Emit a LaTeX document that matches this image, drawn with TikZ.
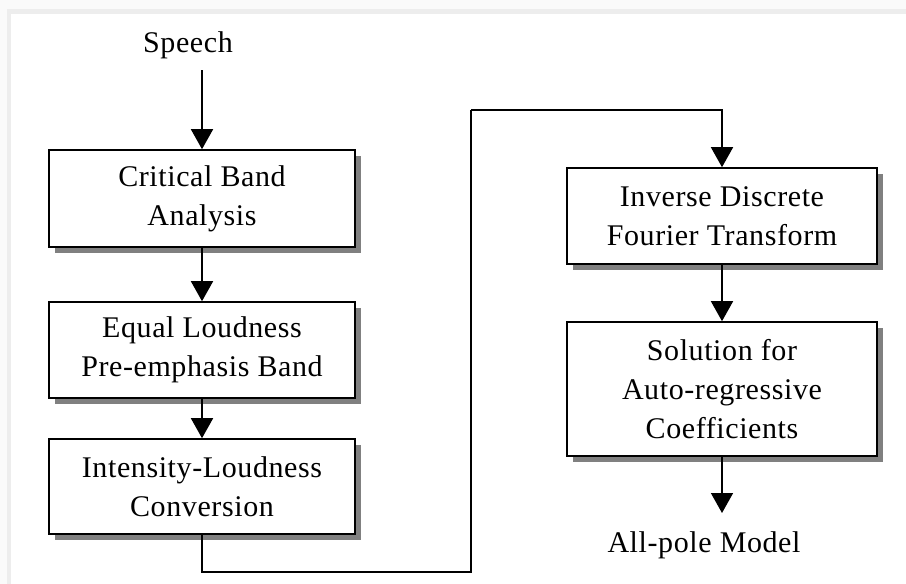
\documentclass[tikz,border=0pt]{standalone}
\usepackage{fontspec}
\setmainfont{Liberation Serif}[LetterSpace=2]
\usetikzlibrary{arrows.meta,shadows}
\begin{document}
\begin{tikzpicture}[x=1pt,y=-1pt,
  every node/.style={font=\fontsize{30}{39}\selectfont, inner sep=0pt},
  procbox/.style={draw=black, line width=1.6pt, fill=white, align=center,
    drop shadow={shadow xshift=6pt, shadow yshift=-6pt, fill=black!50, opacity=1}},
  flow/.style={line width=1.6pt, -{Triangle[length=20pt,width=22pt]}},
  link/.style={line width=1.6pt}]
  % page background with a faint inset frame
  \fill[black!2] (0,0) rectangle (906,584);
  \fill[black!7] (7,9) rectangle (906,14);
  \fill[black!7] (7,9) rectangle (11,584);
  \fill[white] (11,14) rectangle (906,584);
  \useasboundingbox (0,0) rectangle (906,584);

  % left column
  \node (speech) at (188,45) {Speech};
  \node[procbox, minimum width=306pt, minimum height=97pt] (b1) at (202,198.5)
    {Critical Band\\Analysis};
  \node[procbox, minimum width=306pt, minimum height=96pt] (b2) at (202,350)
    {Equal Loudness\\Pre-emphasis Band};
  \node[procbox, minimum width=306pt, minimum height=95pt] (b3) at (202,486.5)
    {Intensity-Loudness\\Conversion};

  % right column
  \node[procbox, minimum width=310pt, minimum height=96pt] (b4) at (722,216)
    {Inverse Discrete\\Fourier Transform};
  \node[procbox, minimum width=310pt, minimum height=134pt] (b5) at (722,389)
    {Solution for\\Auto-regressive\\Coefficients};
  \node (model) at (704,545) {All-pole Model};

  % connectors
  \coordinate (in) at (202,70);
  \coordinate (out) at (722,513);
  \coordinate (low) at (471,572);
  \coordinate (high) at (471,110);
  \draw[flow] (in) -- (b1.north);
  \draw[flow] (b1.south) -- (b2.north);
  \draw[flow] (b2.south) -- (b3.north);
  \draw[link] (b3.south) |- (low) -- (high);
  \draw[flow] (high) -| (b4.north);
  \draw[flow] (b4.south) -- (b5.north);
  \draw[flow] (b5.south) -- (out);
\end{tikzpicture}
\end{document}
